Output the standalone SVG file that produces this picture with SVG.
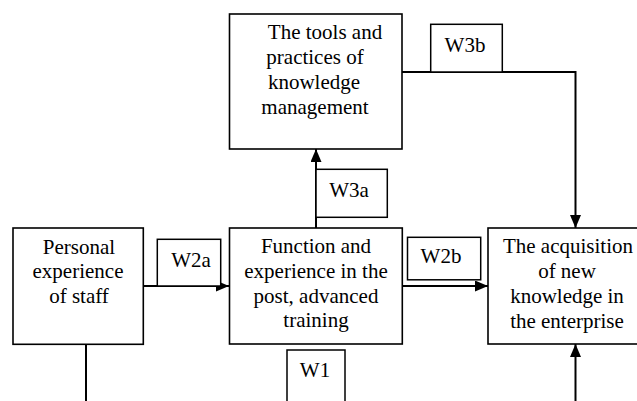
<svg xmlns="http://www.w3.org/2000/svg" width="637" height="401" viewBox="0 0 637 401">
<style>
.box{fill:#fff;stroke:#000;stroke-width:1.6}
.lbl{fill:#fff;stroke:#000;stroke-width:1.5}
.con{fill:none;stroke:#000;stroke-width:2}
</style>
<defs>
<marker id="ah" markerUnits="userSpaceOnUse" markerWidth="14" markerHeight="12" refX="13" refY="5.5" orient="auto">
<path d="M0,0 L13,5.5 L0,11 z" fill="#000"/>
</marker>
</defs>
<rect width="637" height="401" fill="#fff"/>
<g id="connectors">
<polyline class="con" points="402,72 575.5,72 575.5,228" marker-end="url(#ah)"/>
<line class="con" x1="575.5" y1="401" x2="575.5" y2="344" marker-end="url(#ah)"/>
<line class="con" x1="143" y1="286" x2="229" y2="286" marker-end="url(#ah)"/>
<line class="con" x1="402" y1="286" x2="488" y2="286" marker-end="url(#ah)"/>
<line class="con" x1="316" y1="228" x2="316" y2="149" marker-end="url(#ah)"/>
<line class="con" x1="86" y1="344" x2="86" y2="401"/>
</g>
<g id="tools">
<rect class="box" x="229.5" y="14" width="172.5" height="135"/>
<text font-family="Liberation Serif" font-size="21" text-anchor="middle" x="325" y="39">The tools and</text>
<text font-family="Liberation Serif" font-size="21" text-anchor="middle" x="315" y="64">practices of</text>
<text font-family="Liberation Serif" font-size="21" text-anchor="middle" x="314" y="89">knowledge</text>
<text font-family="Liberation Serif" font-size="21" text-anchor="middle" x="315" y="114">management</text>
</g>
<g id="personal">
<rect class="box" x="13" y="228" width="130.3" height="116.3"/>
<text font-family="Liberation Serif" font-size="21" text-anchor="middle" x="79" y="254">Personal</text>
<text font-family="Liberation Serif" font-size="21" text-anchor="middle" x="78" y="278">experience</text>
<text font-family="Liberation Serif" font-size="21" text-anchor="middle" x="79" y="303">of staff</text>
</g>
<g id="function">
<rect class="box" x="229.5" y="228" width="172.8" height="116"/>
<text font-family="Liberation Serif" font-size="21" text-anchor="middle" x="316" y="253">Function and</text>
<text font-family="Liberation Serif" font-size="21" text-anchor="middle" x="316" y="278">experience in the</text>
<text font-family="Liberation Serif" font-size="21" text-anchor="middle" x="316" y="303">post, advanced</text>
<text font-family="Liberation Serif" font-size="21" text-anchor="middle" x="316" y="327">training</text>
</g>
<g id="acquisition">
<rect class="box" x="488" y="228" width="155" height="116"/>
<text font-family="Liberation Serif" font-size="21" text-anchor="middle" x="568" y="253">The acquisition</text>
<text font-family="Liberation Serif" font-size="21" text-anchor="middle" x="567" y="278">of new</text>
<text font-family="Liberation Serif" font-size="21" text-anchor="middle" x="567" y="303">knowledge in</text>
<text font-family="Liberation Serif" font-size="21" text-anchor="middle" x="567" y="328">the enterprise</text>
</g>
<g id="label-W3b">
<rect class="lbl" x="430.7" y="24.3" width="71.6" height="47.7"/>
<text font-family="Liberation Serif" font-size="21" text-anchor="middle" x="465" y="52">W3b</text>
</g>
<g id="label-W3a">
<rect class="lbl" x="316" y="169.3" width="71.3" height="48"/>
<text font-family="Liberation Serif" font-size="21" text-anchor="middle" x="349" y="197">W3a</text>
</g>
<g id="label-W2a">
<rect class="lbl" x="157.3" y="239.3" width="63.4" height="46.7"/>
<text font-family="Liberation Serif" font-size="21" text-anchor="middle" x="191" y="267">W2a</text>
</g>
<g id="label-W2b">
<rect class="lbl" x="407.5" y="237.3" width="73.2" height="42.5"/>
<text font-family="Liberation Serif" font-size="21" text-anchor="middle" x="441" y="263">W2b</text>
</g>
<g id="label-W1">
<rect class="lbl" x="287" y="350" width="58" height="60"/>
<text font-family="Liberation Serif" font-size="21" text-anchor="middle" x="315" y="377">W1</text>
</g>
</svg>
